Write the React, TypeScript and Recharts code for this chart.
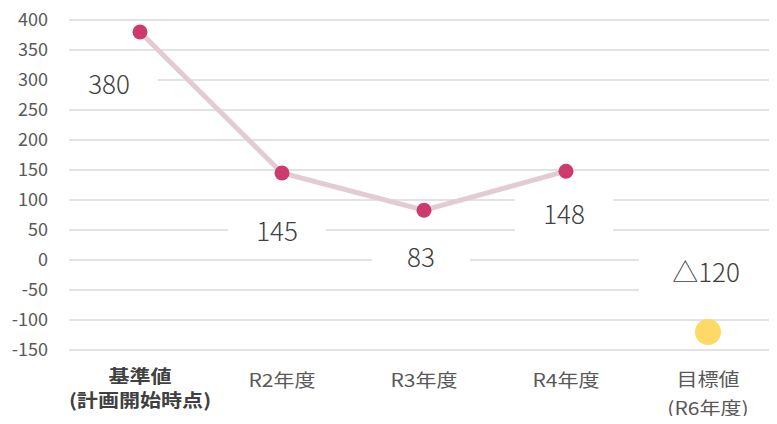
import React from "react";
import { LineChart, Line, XAxis, YAxis, CartesianGrid, LabelList } from "recharts";

// categories and values
const categories = ["基準値", "R2年度", "R3年度", "R4年度", "目標値"];
const subLabels = ["(計画開始時点)", "", "", "", "(R6年度)"];
const actualValues: (number | null)[] = [380, 145, 83, 148, null];
const targetValues: (number | null)[] = [null, null, null, null, -120];
const labelTexts = ["380", "145", "83", "148", "△120"];
const yTicks = [-150, -100, -50, 0, 50, 100, 150, 200, 250, 300, 350, 400];

// label placement (manual offsets like the original sheet)
const labelOffsets = [
    [-31, 53],
    [-5, 59],
    [-3, 47],
    [-2, 43],
    [-2, -59],
];
const labelBoxWidths = [98, 98, 98, 98, 134];

const FONT = "'Noto Sans CJK JP', 'Noto Sans', sans-serif";

const data = categories.map((name, i) => ({
    name,
    actual: actualValues[i],
    target: targetValues[i],
}));

const DataLabel = (props: any) => {
    const { x, y, index, value } = props;
    if (value == null || x == null || y == null) return null;
    const [dx, dy] = labelOffsets[index];
    const cx = x + dx;
    const cy = y + dy;
    const w = labelBoxWidths[index];
    const h = 48;
    return (
        <g>
            <rect x={cx - w / 2} y={cy - h / 2} width={w} height={h} fill="#FFFFFF" />
            <text
                x={cx}
                y={cy + 26 * 0.36}
                textAnchor="middle"
                fontSize={26}
                fontWeight={300}
                fontFamily={FONT}
                fill="#404040"
            >
                {labelTexts[index]}
            </text>
        </g>
    );
};

// excel's category labels are a bit wider than tall, so stretch them a little
const CategoryTick = (props: any) => {
    const { x, y, payload, index } = props;
    const first = index === 0;
    const color = first ? "#404040" : "#595959";
    const weight = first ? 700 : 400;
    const sub = subLabels[index];
    const mainY = first ? 33.5 : index === 4 ? 36 : 37;
    const subY = index === 4 ? 65 : 57;
    return (
        <g transform={`translate(${x},${y}) scale(1.17,1)`}>
            <text
                x={0}
                y={mainY}
                textAnchor="middle"
                fontSize={18}
                fontWeight={weight}
                fontFamily={FONT}
                fill={color}
            >
                {payload.value}
            </text>
            {sub && (
                <text
                    x={0}
                    y={subY}
                    textAnchor="middle"
                    fontSize={18}
                    fontWeight={weight}
                    fontFamily={FONT}
                    fill={color}
                >
                    {sub}
                </text>
            )}
        </g>
    );
};

export default function App() {
    return (
        <div style={{ margin: -8, width: 777, height: 424, overflow: "hidden", background: "#FFFFFF" }}>
            <LineChart
                width={779}
                height={424}
                data={data}
                margin={{ top: 20, right: 0, bottom: 0, left: 0 }}
            >
                <CartesianGrid vertical={false} stroke="#D9D9D9" strokeWidth={1.5} />
                <XAxis
                    dataKey="name"
                    axisLine={false}
                    tickLine={false}
                    tickSize={0}
                    tickMargin={0}
                    height={74}
                    interval={0}
                    padding={{ left: 71, right: 71 }}
                    tick={<CategoryTick />}
                />
                <YAxis
                    domain={[-150, 400]}
                    ticks={yTicks}
                    width={69}
                    axisLine={false}
                    tickLine={false}
                    tickSize={0}
                    tickMargin={21}
                    tick={{ fontSize: 18, fill: "#595959", fontFamily: FONT }}
                />
                <Line
                    dataKey="actual"
                    stroke="#E3CBD3"
                    strokeWidth={5}
                    dot={{ r: 7.5, fill: "#CC3A6E", stroke: "none" }}
                    activeDot={false}
                    isAnimationActive={false}
                >
                    <LabelList dataKey="actual" content={<DataLabel />} />
                </Line>
                <Line
                    dataKey="target"
                    stroke="none"
                    dot={{ r: 13, fill: "#FFD966", stroke: "none" }}
                    activeDot={false}
                    isAnimationActive={false}
                >
                    <LabelList dataKey="target" content={<DataLabel />} />
                </Line>
            </LineChart>
        </div>
    );
}
